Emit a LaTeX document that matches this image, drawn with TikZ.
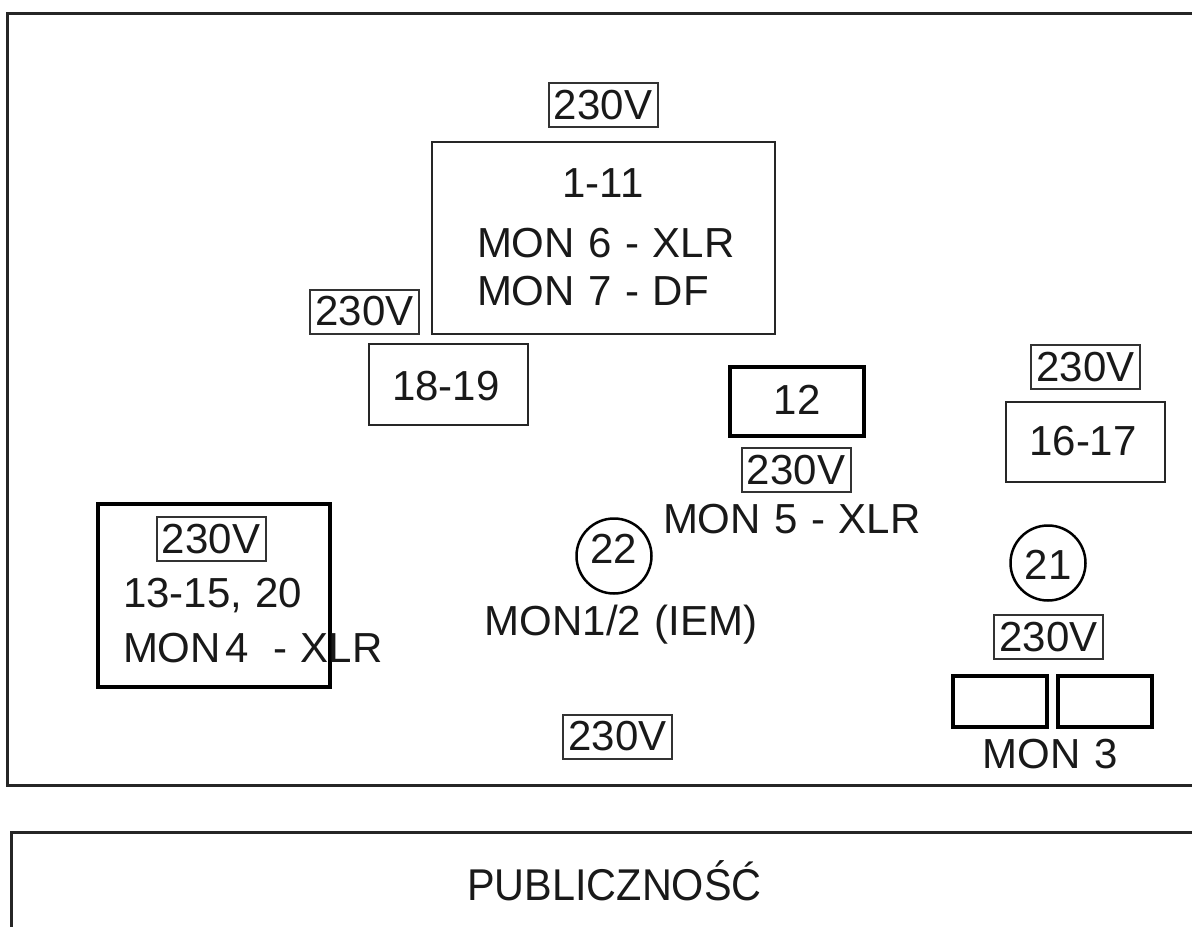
\documentclass[tikz,border=0pt]{standalone}
\usepackage{fontspec}
\setmainfont{Liberation Sans}
\newcommand\mylblfont{\fontsize{42}{48}\selectfont\spaceskip=13.5pt plus 2pt\relax}
\begin{document}
\begin{tikzpicture}[x=1pt,y=-1pt,
  every node/.style={inner sep=0pt,outer sep=0pt,font=\mylblfont,text=black!90},
  frame/.style={draw=black!85,line width=3pt},
  box/.style={draw=black!85,line width=2.5pt},
  thickbox/.style={draw=black,line width=3.3pt},
  volt/.style={draw=black!80,line width=2pt,minimum width=109pt,minimum height=44pt},
  spot/.style={draw=black,line width=2.5pt,circle,minimum size=75pt},
  lbl/.style={anchor=base},
  lblw/.style={anchor=base west}]
\useasboundingbox (0,0) rectangle (1192,927);
\fill[white] (0,0) rectangle (1192,927);
% stage and audience outlines
\coordinate (st1) at (1192,13);
\coordinate (st2) at (7,13);
\coordinate (st3) at (7,785);
\coordinate (st4) at (1192,785);
\draw[frame] (st1) -- (st2) -- (st3) -- (st4);
\coordinate (au1) at (1192,832);
\coordinate (au2) at (11,832);
\coordinate (au3) at (11,927);
\draw[frame] (au1) -- (au2) -- (au3);
% boxes
\node[box,minimum width=343pt,minimum height=192pt] (main) at (603.5,238) {};
\node[box,minimum width=159pt,minimum height=81pt] (b1819) at (448.5,384.5) {};
\node[thickbox,minimum width=134pt,minimum height=69pt] (b12) at (797,401.5) {};
\node[box,minimum width=159pt,minimum height=80pt] (b1617) at (1085.5,442) {};
\node[thickbox,minimum width=232pt,minimum height=183pt] (b1315) at (214,595.5) {};
\node[thickbox,minimum width=94pt,minimum height=51pt] (m3a) at (1000,701.5) {};
\node[thickbox,minimum width=94pt,minimum height=51pt] (m3b) at (1105,701.5) {};
\node[spot] (c21) at (1048,563) {};
\node[spot] (c22) at (614,556) {};
% 230V labels
\node[volt] (v1) at (603,105) {230V};
\node[volt] (v2) at (364.5,311.5) {230V};
\node[volt] (v3) at (796,470) {230V};
\node[volt] (v4) at (1085.5,367) {230V};
\node[volt] (v5) at (1048.5,637) {230V};
\node[volt] (v6) at (211,539) {230V};
\node[volt] (v7) at (617.5,736.5) {230V};
% texts
\node[lbl] (t111) at (603,197) {1-11};
\node[lblw] (tm6) at (477,257) {MON 6 - XLR};
\node[lblw] (tm7) at (477,305) {MON 7 - DF};
\node[lbl] (t1819) at (446,400) {18-19};
\node[lbl] (t12) at (797,414) {12};
\node[lbl] (t1617) at (1083,455) {16-17};
\node[lblw] (tm5) at (663,533) {MON 5 - XLR};
\node[lbl] (t21) at (1048,579) {21};
\node[lbl] (t22) at (614,563) {22};
\node[lbl] (tiem) at (621,635) {MON1/2 (IEM)};
\node[lbl] (tm3) at (1050,768) {MON 3};
\node[lblw] (t1315) at (123,607) {13-15, 20};
\node[lblw] (tm4) at (123,662) {MON\hspace{5pt}4\hspace{24pt}-\ XLR};
\node[lbl,font=\fontsize{44.5}{50}\selectfont] (pub) at (614.5,900) {\scalebox{0.93}[1]{PUBLICZNOŚĆ}};
\end{tikzpicture}
\end{document}
